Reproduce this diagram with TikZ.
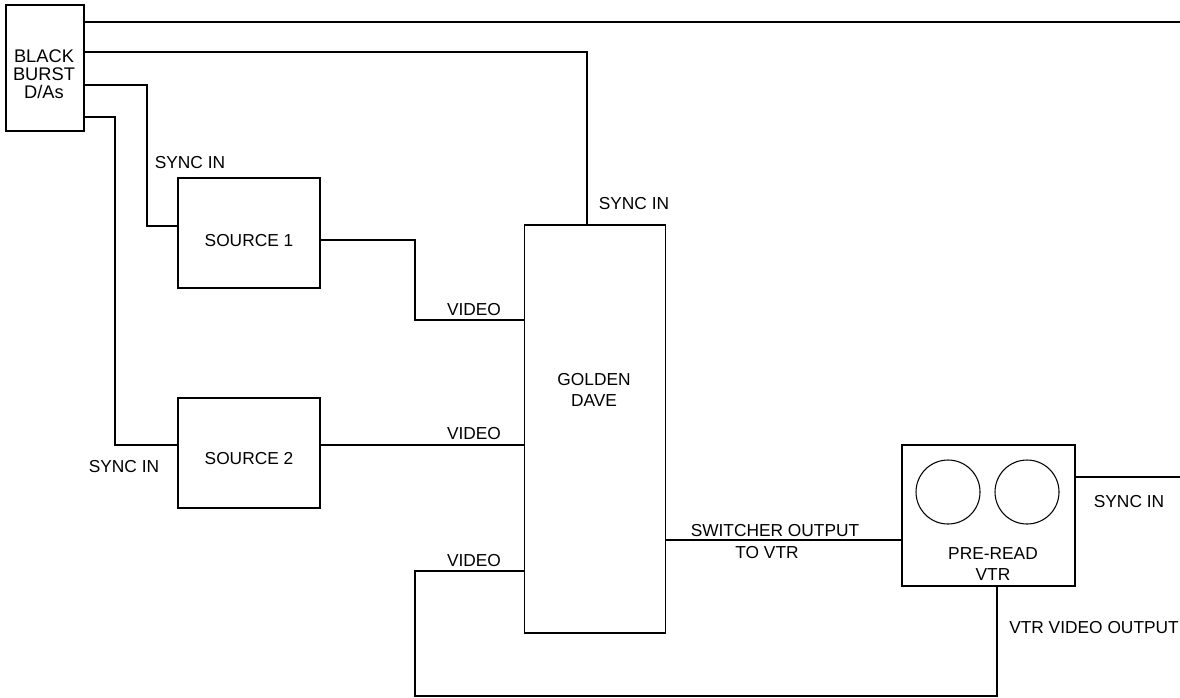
\documentclass[tikz,border=0pt]{standalone}
\usepackage{fontspec}
\setmainfont{Liberation Sans}
\usetikzlibrary{calc,positioning}
\tikzset{
  unitbox/.style={draw=black,line width=0.8pt,inner sep=0pt},
  boxtext/.style={font=\fontsize{13}{15.5}\selectfont,align=center,inner sep=0pt},
  wire/.style={draw=black,line width=0.8pt},
  wirelabel/.style={font=\fontsize{13}{15}\selectfont,inner sep=0pt},
  reel/.style={circle,draw=black,line width=0.8pt,minimum size=48pt,inner sep=0pt},
}

\begin{document}
\begin{tikzpicture}[x=0.75pt,y=-0.75pt]
  \useasboundingbox (0,0) rectangle (1180,697);

  % Equipment boxes.
  \node[unitbox,minimum width=58.5pt,minimum height=94.5pt] (burst) at (45,68) {};
  \node[unitbox,minimum width=106.5pt,minimum height=82.5pt] (src1) at (249,233) {};
  \node[unitbox,minimum width=106.5pt,minimum height=82.5pt] (src2) at (249,453) {};
  \node[unitbox,minimum width=105.75pt,minimum height=306pt] (dave) at (595,429) {};
  \node[unitbox,minimum width=129.75pt,minimum height=105.75pt] (vtr) at (988.5,515.5) {};
  \node[reel] (reelL) at (948,492) {};
  \node[reel] (reelR) at (1027,492) {};

  % Box captions.
  \node[boxtext,font=\fontsize{13.7}{13.6}\selectfont] (burstTxt) at (44,74) {BLACK\\BURST\\D/As};
  \node[boxtext] (src1Txt) at (249,241) {SOURCE 1};
  \node[boxtext] (src2Txt) at (249,459) {SOURCE 2};
  \node[boxtext] (daveTxt) at (594,390) {GOLDEN\\DAVE};
  \node[boxtext] (vtrTxt) at (993,564) {PRE-READ\\VTR};

  % Bend points of the wiring.
  \coordinate (refOut) at (1180,22);
  \coordinate (daveSync) at (587,52);
  \coordinate (s1Sync) at (147,85);
  \coordinate (s1Knee) at (147,226);
  \coordinate (s2Sync) at (115,117);
  \coordinate (s2Knee) at (115,445);
  \coordinate (v1a) at (415,240);
  \coordinate (v1b) at (415,320);
  \coordinate (swOut) at (700,540);
  \coordinate (vtrSync) at (1180,477);
  \coordinate (loopA) at (997,696);
  \coordinate (loopB) at (415,696);
  \coordinate (loopC) at (415,571);

  % Black burst distribution.
  \draw[wire] (burst.east |- refOut) -- (refOut);
  \draw[wire] (burst.east |- daveSync) -- (daveSync) -- (daveSync |- dave.north);
  \draw[wire] (burst.east |- s1Sync) -- (s1Sync) -- (s1Knee) -- (src1.west |- s1Knee);
  \draw[wire] (burst.east |- s2Sync) -- (s2Sync) -- (s2Knee) -- (src2.west |- s2Knee);

  % Video paths.
  \draw[wire] (src1.east |- v1a) -- (v1a) -- (v1b) -- (dave.west |- v1b);
  \draw[wire] (src2.east |- s2Knee) -- (dave.west |- s2Knee);
  \draw[wire] (dave.east |- swOut) -- (vtr.west |- swOut);
  \draw[wire] (vtr.east |- vtrSync) -- (vtrSync);
  \draw[wire] (loopA |- vtr.south) -- (loopA) -- (loopB) -- (loopC) -- (dave.west |- loopC);

  % Wire labels.
  \node[wirelabel] (s1SyncLbl) at (190,163) {SYNC IN};
  \node[wirelabel] (daveSyncLbl) at (634,204) {SYNC IN};
  \node[wirelabel] (v1Lbl) at (474,310) {VIDEO};
  \node[wirelabel] (v2Lbl) at (474,434) {VIDEO};
  \node[wirelabel] (s2SyncLbl) at (124,467) {SYNC IN};
  \node[wirelabel] (v3Lbl) at (474,561) {VIDEO};
  \node[wirelabel] (swLbl) at (775,531) {SWITCHER OUTPUT};
  \node[wirelabel] (swLbl2) at (767,553) {TO VTR};
  \node[wirelabel] (vtrSyncLbl) at (1129,502) {SYNC IN};
  \node[wirelabel] (vtrOutLbl) at (1094,628) {VTR VIDEO OUTPUT};
\end{tikzpicture}
\end{document}
